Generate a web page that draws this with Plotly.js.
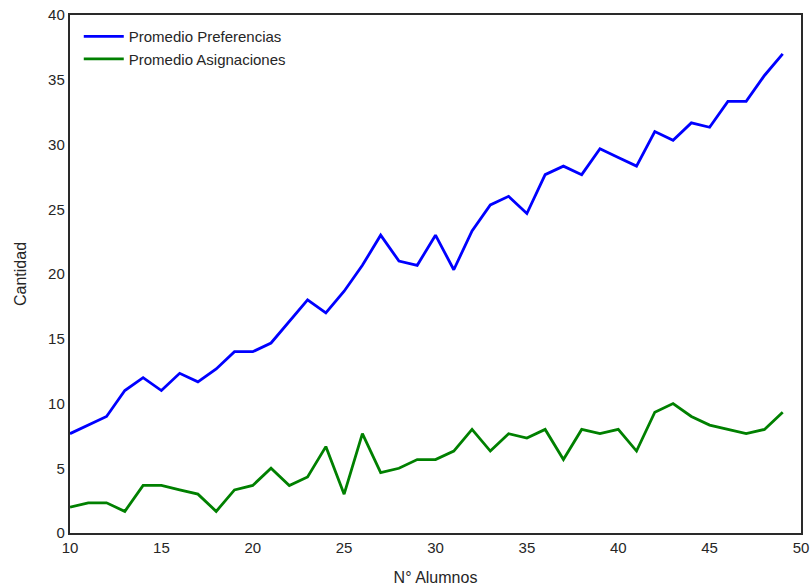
<!DOCTYPE html>
<html>
<head>
<meta charset="utf-8">
<script src="https://cdn.plot.ly/plotly-3.0.1.min.js"></script>
<style>html,body{margin:0;padding:0;background:#fff;}#chart{width:810px;height:588px;}</style>
</head>
<body>
<div id="chart"></div>
<script>
var alumnos = [10,11,12,13,14,15,16,17,18,19,20,21,22,23,24,25,26,27,28,29,30,31,32,33,34,35,36,37,38,39,40,41,42,43,44,45,46,47,48,49];
var promedioPreferencias = [7.67,8.33,9,11,12,11,12.33,11.67,12.67,14,14,14.67,16.33,18,17,18.67,20.67,23,21,20.67,23,20.33,23.33,25.33,26,24.67,27.67,28.33,27.67,29.67,29,28.33,31,30.33,31.67,31.33,33.33,33.33,35.33,37];
var promedioAsignaciones = [2,2.33,2.33,1.67,3.67,3.67,3.33,3,1.67,3.33,3.67,5,3.67,4.33,6.67,3,7.67,4.67,5,5.67,5.67,6.33,8,6.33,7.67,7.33,8,5.67,8,7.67,8,6.33,9.33,10,9,8.33,8,7.67,8,9.33];
var nombres = ["Promedio Preferencias","Promedio Asignaciones"];

var font = "Liberation Sans, Arial, sans-serif";
var data = [
  {x: alumnos, y: promedioPreferencias, name: nombres[0], type: "scatter", mode: "lines",
   line: {color: "#0000ff", width: 2.8}},
  {x: alumnos, y: promedioAsignaciones, name: nombres[1], type: "scatter", mode: "lines",
   line: {color: "#008000", width: 2.8}}
];
var layout = {
  width: 810, height: 588,
  margin: {l: 70, r: 9, t: 15, b: 55},
  paper_bgcolor: "#fff", plot_bgcolor: "#fff",
  font: {family: font, color: "#262626", size: 15},
  showlegend: true,
  legend: {x: 0.012, y: 0.99, xanchor: "left", yanchor: "top", bgcolor: "rgba(0,0,0,0)",
           font: {family: font, size: 15, color: "#262626"}, tracegroupgap: 0, itemwidth: 40},
  xaxis: {range: [10, 50], tickvals: [10,15,20,25,30,35,40,45,50], showgrid: false, zeroline: false,
          showline: true, mirror: true, linecolor: "#2a2a2a", linewidth: 2.2, ticks: "",
          tickfont: {size: 15, color: "#262626"},
          title: {text: "N° Alumnos", font: {size: 16, color: "#262626"}, standoff: 17}},
  yaxis: {range: [0, 40], tickvals: [0,5,10,15,20,25,30,35,40], showgrid: false, zeroline: false,
          showline: true, mirror: true, linecolor: "#2a2a2a", linewidth: 2.2, ticks: "",
          tickfont: {size: 15, color: "#262626"},
          title: {text: "Cantidad", font: {size: 16, color: "#262626"}, standoff: 18}}
};
Plotly.newPlot("chart", data, layout, {displayModeBar: false, staticPlot: true});
</script>
</body>
</html>
